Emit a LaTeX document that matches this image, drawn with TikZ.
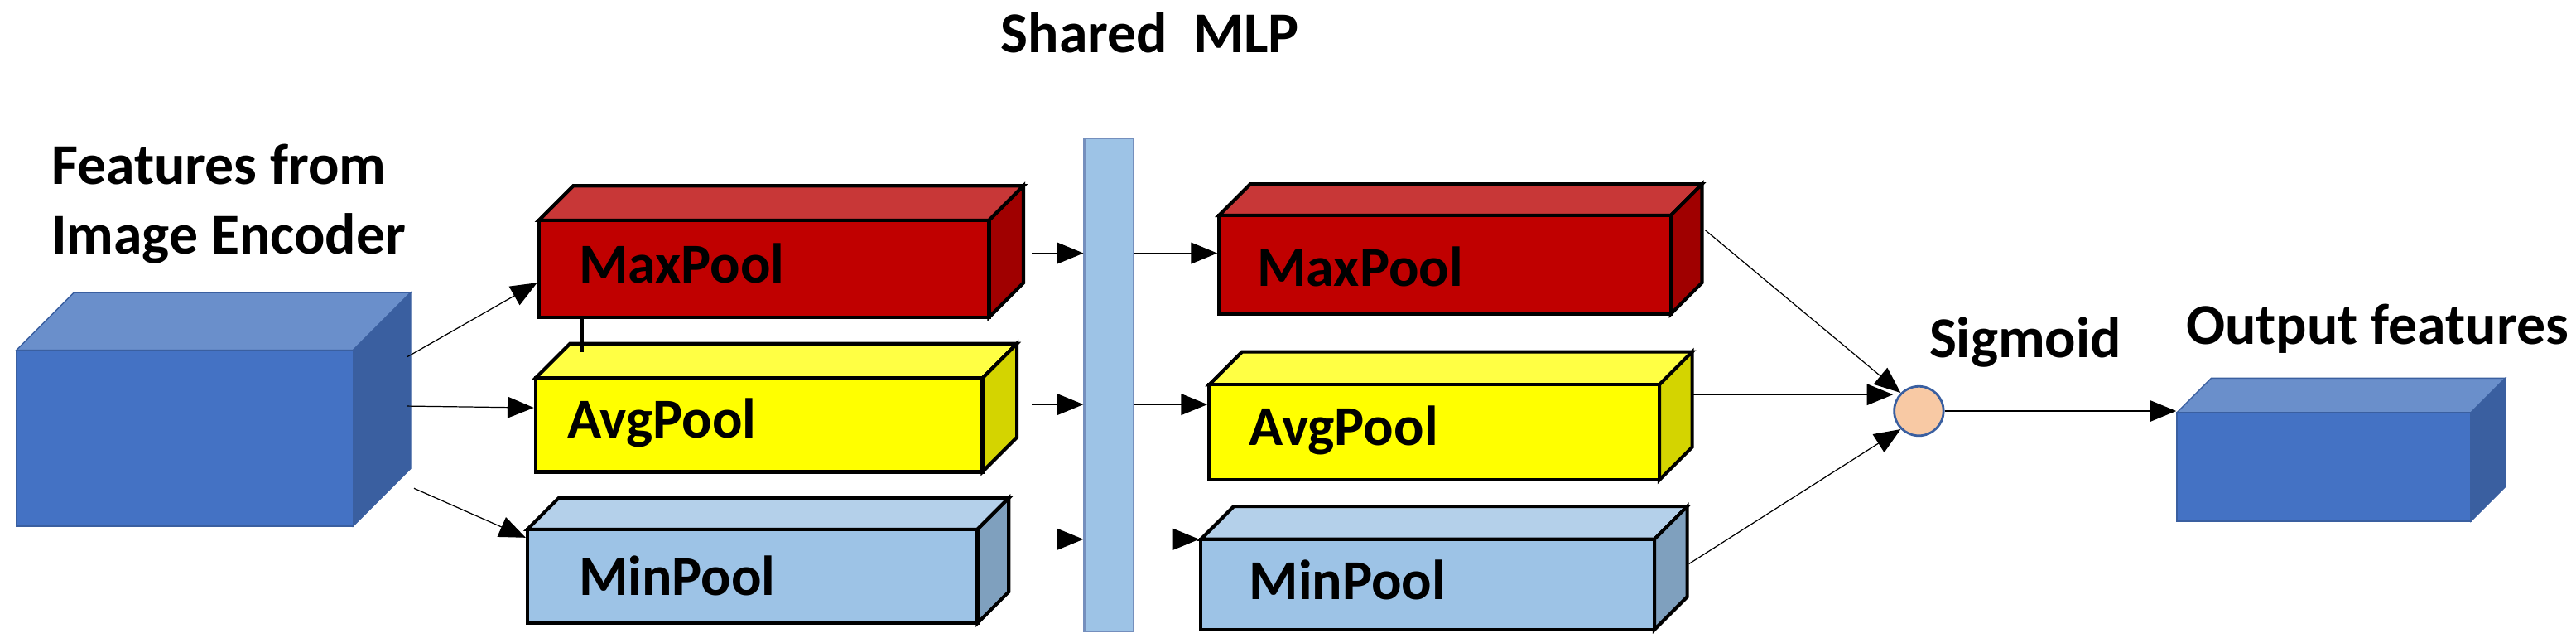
\documentclass[tikz,border=0pt]{standalone}
\usepackage{fontspec}
\setmainfont{Carlito}
\usetikzlibrary{arrows.meta,calc}
\definecolor{bF}{HTML}{4472C4}\definecolor{bT}{HTML}{6A8FCB}\definecolor{bS}{HTML}{3A5FA0}
\definecolor{rF}{HTML}{C00000}\definecolor{rT}{HTML}{C83737}\definecolor{rS}{HTML}{A00000}
\definecolor{yF}{HTML}{FFFF00}\definecolor{yT}{HTML}{FFFF44}\definecolor{yS}{HTML}{D4D400}
\definecolor{lF}{HTML}{9DC3E6}\definecolor{lT}{HTML}{B4D0EA}\definecolor{lS}{HTML}{7FA0BE}
\definecolor{sg}{HTML}{F8C9A4}
% #1 name, #2 x1, #3 y1, #4 x2, #5 y2, #6 depth, #7 front,#8 top,#9 side ; edge colour set by \edgec
\newcommand\mycuboid[9]{%
  \pgfmathsetlengthmacro\cw{(#4-#2)*0.2mm}%
  \pgfmathsetlengthmacro\ch{(#5-#3)*0.2mm}%
  \fill[#8,draw=\edgec,line width=\edgew] (#2,#3) -- ++(#6,-#6) -- (#4+#6,#3-#6) -- (#4,#3) -- cycle;
  \fill[#9,draw=\edgec,line width=\edgew] (#4,#3) -- (#4+#6,#3-#6) -- (#4+#6,#5-#6) -- (#4,#5) -- cycle;
  \node[rectangle,fill=#7,draw=\edgec,line width=\edgew,inner sep=0,minimum width=\cw,minimum height=\ch] (#1) at ({(#2+#4)/2},{(#3+#5)/2}) {};
}
\tikzset{arr/.style={-{Triangle[length=3.2mm,width=2.6mm]},line width=0.35pt},
  lbl/.style={font=\fontsize{19.5}{22}\selectfont\bfseries,anchor=west,inner sep=0},
  ttl/.style={font=\fontsize{20}{24}\selectfont\bfseries,align=left,inner sep=0}}
\begin{document}
\begin{tikzpicture}[x=0.2mm,y=-0.2mm]
\useasboundingbox (0,0) rectangle (1568,391);
\def\edgec{bS}\def\edgew{0.4pt}
\mycuboid{inp}{10}{213}{215}{320}{35}{bF}{bT}{bS}
\mycuboid{out}{1325}{251}{1504}{317}{21}{bF}{bT}{bS}
\def\edgec{black}\def\edgew{1.2pt}
\mycuboid{mp1}{328}{134}{602}{193}{21}{rF}{rT}{rS}
\mycuboid{ap1}{326}{230}{598}{287}{21}{yF}{yT}{yS}
\mycuboid{mn1}{321}{322}{595}{379}{19}{lF}{lT}{lS}
\mycuboid{mp2}{742}{131}{1017}{191}{19}{rF}{rT}{rS}
\mycuboid{ap2}{736}{234}{1010}{292}{20}{yF}{yT}{yS}
\mycuboid{mn2}{731}{328}{1007}{383}{20}{lF}{lT}{lS}
\node[lbl] at (352,160) {MaxPool};
\node[lbl] at (345,257) {AvgPool};
\node[lbl] at (352,350) {MinPool};
\node[lbl] at (765,162) {MaxPool};
\node[lbl] at (760,262) {AvgPool};
\node[lbl] at (760,353) {MinPool};
\draw[line width=1.4pt] ([xshift=5.4mm]mp1.south west) -- ++(0,20);
\node[rectangle,fill=lF,draw=bS!70,line width=0.6pt,inner sep=0,minimum width=6mm,minimum height=60mm] (mlp) at (675,234) {};
\node[ttl] (mlpl) at (700,20) {Shared\ \ MLP};
\node[ttl,anchor=west] (inl) at (31,124) {Features from\\Image Encoder};
\node[ttl,anchor=west] (sgl) at (1174,208) {Sigmoid};
\node[ttl] (outl) at (1447,200) {Output features};
\node[circle,fill=sg,draw=bS,line width=0.8pt,minimum size=6mm,inner sep=0] (sig) at (1168,250) {};
\coordinate (i1) at (248,217); \coordinate (i2) at (248,247); \coordinate (i3) at (252,297);
\draw[arr] (i1) -- (mp1.west |- 0,172) ; 
\draw[arr] (i2) -- (ap1.west |- 0,248);
\draw[arr] (i3) -- (mn1.west |- 0,327);
\foreach \y in {154,246,328}{
  \coordinate (a\y) at (628,\y);
  \draw[arr] (a\y) -- (mlp.west |- 0,\y);
}
\draw[arr] (mlp.east |- 0,154) -- (mp2.west |- 0,154);
\draw[arr] (mlp.east |- 0,246) -- (ap2.west |- 0,246);
\draw[arr] (mlp.east |- 0,328) -- (mn2.west |- 0,328);
\coordinate (r1) at (1038,140); \coordinate (r2) at (1030,240); \coordinate (r3) at (1028,343);
\draw[arr] (r1) -- (sig.north west);
\draw[arr] (r2) -- (sig.west |- 0,240);
\draw[arr] (r3) -- (sig.south west);
\draw[arr] (sig.east) -- (out.west |- 0,250);
\end{tikzpicture}
\end{document}
